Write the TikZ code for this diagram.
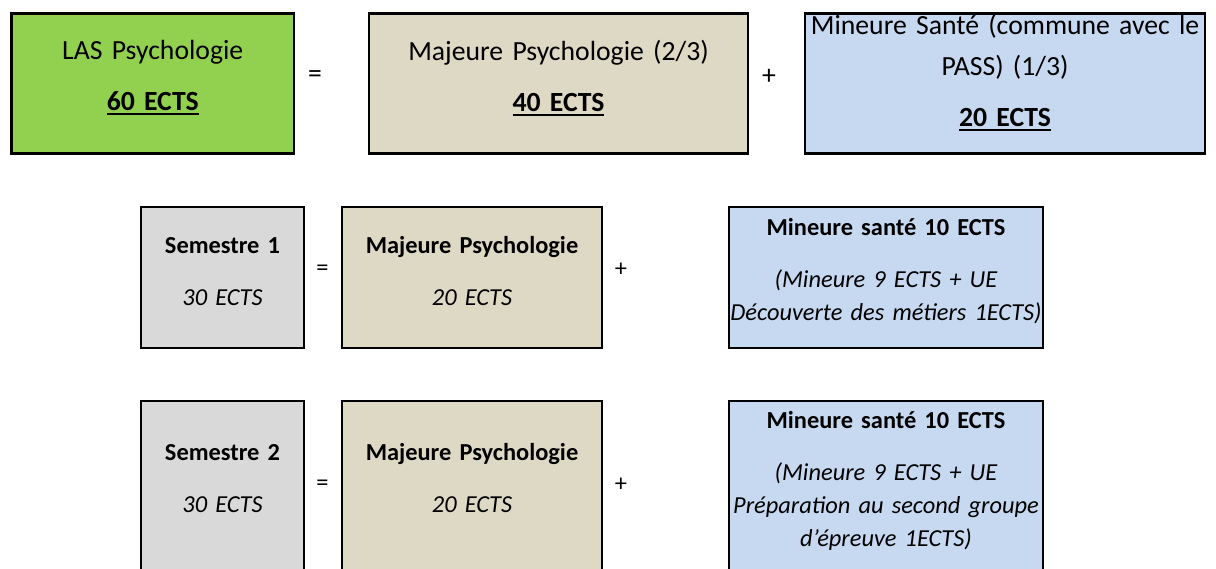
\documentclass[tikz,border=0pt]{standalone}
\usepackage{fontspec}
\setmainfont{Carlito}
\usepackage{tikz}

\definecolor{vertlas}{HTML}{92D050}
\definecolor{beigemaj}{HTML}{DDD9C4}
\definecolor{bleumin}{HTML}{C6D9F1}
\definecolor{grissem}{HTML}{D9D9D9}

% souligne epais
\newcommand{\souligne}[1]{\setbox0\hbox{#1}\rlap{\rule[-5pt]{\wd0}{1.8pt}}\box0}

\begin{document}
\begin{tikzpicture}[x=1pt,y=-1pt]
    % Styles
    \tikzstyle{boite}=[draw,line width=2.6pt,inner sep=0pt,outer sep=0pt,anchor=north west,align=center]
    \tikzstyle{haut}=[font=\fontsize{27.7}{41}\selectfont]
    \tikzstyle{bas}=[font=\fontsize{24.4}{33}\selectfont]
    \tikzstyle{signe}=[inner sep=0pt]
    % Niveaux
    \def\LigneA{13.5}
    \def\LigneB{207}
    \def\LigneC{401}
    % Cadre
    \useasboundingbox (0,0) rectangle (1216,568);
    \clip (0,0) rectangle (1216,568);
    % Ligne 1 : annee
    \node[boite,haut,fill=vertlas,text width=282.5pt,text height=45.5pt,text depth=94.5pt] (las) at (11.5,\LigneA)
        {LAS Psychologie\\[10pt]\textbf{\souligne{60 ECTS}}};
    \node[boite,haut,fill=beigemaj,text width=379pt,text height=46.5pt,text depth=93.5pt] (majeure) at (369,\LigneA)
        {Majeure Psychologie (2/3)\\[10pt]\textbf{\souligne{40 ECTS}}};
    \node[boite,haut,fill=bleumin,text width=400pt,text height=20.5pt,text depth=119.5pt] (mineure) at (805,\LigneA)
        {Mineure Santé (commune avec le\\PASS) (1/3)\\[10pt]\textbf{\souligne{20 ECTS}}};
    \node[signe,haut] (egalA) at (315,77) {=};
    \node[signe,haut] (plusA) at (769,77) {+};
    % Ligne 2 : semestre 1
    \node[boite,bas,fill=grissem,text width=163pt,text height=46pt,text depth=95pt] (sem1) at (141,\LigneB)
        {\textbf{Semestre 1}\\[19pt]{\itshape 30 ECTS}};
    \node[boite,bas,fill=beigemaj,text width=260pt,text height=46pt,text depth=95pt] (majsem1) at (342,\LigneB)
        {\textbf{Majeure Psychologie}\\[19pt]{\itshape 20 ECTS}};
    \node[boite,bas,fill=bleumin,text width=314pt,text height=28pt,text depth=113pt] (minsem1) at (729,\LigneB)
        {\textbf{Mineure santé 10 ECTS}\\[19pt]{\itshape (Mineure 9 ECTS + UE\\Découverte des métiers 1ECTS)}};
    \node[signe,bas] (egalB) at (322.5,270) {=};
    \node[signe,bas] (plusB) at (621,270) {+};
    % Ligne 3 : semestre 2
    \node[boite,bas,fill=grissem,text width=163pt,text height=59pt,text depth=140pt] (sem2) at (141,\LigneC)
        {\textbf{Semestre 2}\\[19pt]{\itshape 30 ECTS}};
    \node[boite,bas,fill=beigemaj,text width=260pt,text height=59pt,text depth=140pt] (majsem2) at (342,\LigneC)
        {\textbf{Majeure Psychologie}\\[19pt]{\itshape 20 ECTS}};
    \node[boite,bas,fill=bleumin,text width=314pt,text height=27pt,text depth=172pt] (minsem2) at (729,\LigneC)
        {\textbf{Mineure santé 10 ECTS}\\[19pt]{\itshape (Mineure 9 ECTS + UE\\Préparation au second groupe\\d’épreuve 1ECTS)}};
    \node[signe,bas] (egalC) at (322.5,485) {=};
    \node[signe,bas] (plusC) at (621,485) {+};
\end{tikzpicture}
\end{document}
